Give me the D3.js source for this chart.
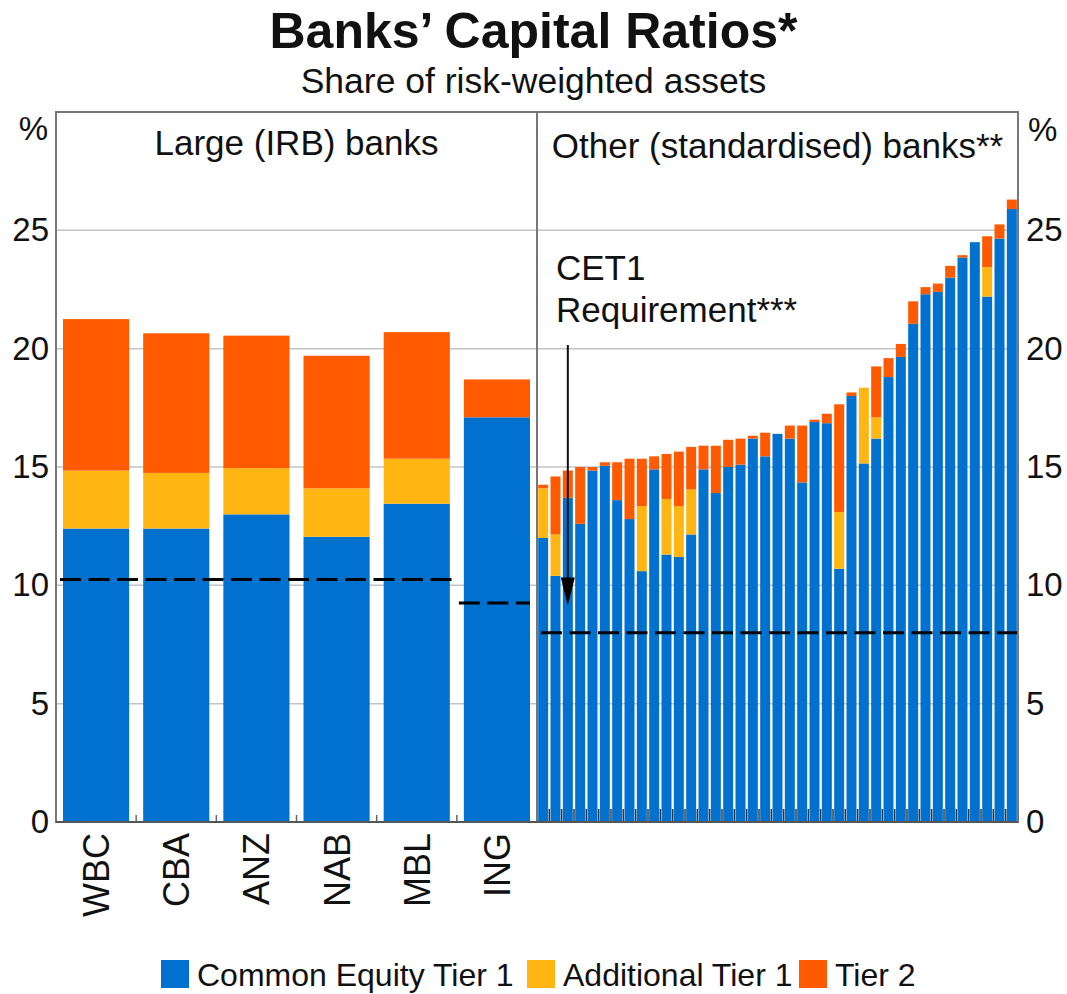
<!DOCTYPE html>
<html>
<head>
<meta charset="utf-8">
<script src="https://cdn.jsdelivr.net/npm/d3@7"></script>
<style>
body { margin: 0; background: #fff; }
svg text { font-family: "Liberation Sans", Arial, sans-serif; fill: #111; }
</style>
</head>
<body>
<div id="chart"></div>
<script>
// large (IRB) banks
var largeBanks = ["WBC", "CBA", "ANZ", "NAB", "MBL", "ING"];
var largeCET1 = [12.4, 12.4, 13.0, 12.05, 13.45, 17.1];
var largeAT1 = [2.45, 2.35, 1.95, 2.05, 1.9, 0];
var largeT2 = [6.4, 5.9, 5.6, 5.6, 5.35, 1.6];

// other (standardised) banks, sorted by total
var otherCET1 = [12.0, 10.4, 13.7, 12.6, 14.85, 15.05, 13.6, 12.8, 10.6, 14.9,
	11.3, 11.2, 12.15, 14.9, 13.9, 15.0, 15.1, 16.2, 15.45, 16.4,
	16.2, 14.35, 16.9, 16.85, 10.7, 18.0, 15.15, 16.2, 18.8, 19.65,
	21.05, 22.3, 22.4, 23.0, 23.85, 24.5, 22.2, 24.65, 25.9];
var otherAT1 = [2.1, 1.75, 0, 0, 0, 0, 0, 0, 2.75, 0,
	2.35, 2.15, 1.9, 0, 0, 0, 0, 0, 0, 0,
	0, 0, 0, 0, 2.4, 0, 3.2, 0.9, 0, 0,
	0, 0, 0, 0, 0, 0, 1.25, 0, 0];
var otherT2 = [0.15, 2.45, 1.15, 2.4, 0.15, 0.15, 1.6, 2.55, 2.0, 0.55,
	1.9, 2.3, 1.8, 1.0, 2.0, 1.15, 1.1, 0.12, 1.0, 0,
	0.55, 2.4, 0.1, 0.4, 4.55, 0.15, 0, 2.15, 0.8, 0.55,
	0.95, 0.3, 0.35, 0.5, 0.1, 0, 1.3, 0.6, 0.4];

// CET1 requirement lines
var reqLarge = 10.25, reqING = 9.25, reqOther = 8.0;

var yTicks = [0, 5, 10, 15, 20, 25];
var seriesNames = ["Common Equity Tier 1", "Additional Tier 1", "Tier 2"];
var colors = ["#0071ce", "#ffb612", "#ff5a00"];

var width = 1067, height = 994;
var plotLeft = 56, plotMid = 537, plotRight = 1018, plotTop = 112, plotBottom = 822;

var svg = d3.select("#chart").append("svg")
	.attr("width", width)
	.attr("height", height);

var y = d3.scaleLinear().domain([0, 30]).range([plotBottom, plotTop]);

var xLarge = d3.scaleBand()
	.domain(largeBanks)
	.range([plotLeft, plotMid])
	.paddingInner(0.175)
	.paddingOuter(0.0875);

var otherIdx = otherCET1.map((d, i) => i);
var xOther = d3.scaleBand()
	.domain(otherIdx)
	.range([plotMid, plotRight])
	.paddingInner(0.19)
	.paddingOuter(0.095);

// gridlines
svg.append("g")
	.selectAll("line")
	.data(yTicks.filter(d => d > 0))
	.enter().append("line")
	.attr("x1", plotLeft).attr("x2", plotRight)
	.attr("y1", d => y(d)).attr("y2", d => y(d))
	.attr("stroke", "#c4c4c4")
	.attr("stroke-width", 1.5);

function stackRows(cet, at, t2) {
	return cet.map((c, i) => [
		{ s: 0, y0: 0, y1: c },
		{ s: 1, y0: c, y1: c + at[i] },
		{ s: 2, y0: c + at[i], y1: c + at[i] + t2[i] }
	]);
}

function drawBars(rows, keys, xs) {
	var g = svg.append("g");
	rows.forEach((segs, i) => {
		g.selectAll(null)
			.data(segs.filter(s => s.y1 > s.y0))
			.enter().append("rect")
			.attr("x", xs(keys[i]))
			.attr("width", xs.bandwidth())
			.attr("y", s => y(s.y1))
			.attr("height", s => y(s.y0) - y(s.y1))
			.attr("fill", s => colors[s.s]);
	});
}

drawBars(stackRows(largeCET1, largeAT1, largeT2), largeBanks, xLarge);
drawBars(stackRows(otherCET1, otherAT1, otherT2), otherIdx, xOther);

// bottom tick marks
var largeTicks = largeBanks.slice(1).map(d => xLarge(d) - xLarge.step() * xLarge.paddingInner() / 2);
svg.append("g").selectAll("line")
	.data(largeTicks)
	.enter().append("line")
	.attr("x1", d => d).attr("x2", d => d)
	.attr("y1", plotBottom).attr("y2", plotBottom - 7)
	.attr("stroke", "#666").attr("stroke-width", 1.5);

var otherTicks = otherIdx.slice(1).map(d => xOther(d) - xOther.step() * xOther.paddingInner() / 2);
svg.append("g").selectAll("line")
	.data(otherTicks)
	.enter().append("line")
	.attr("x1", d => d).attr("x2", d => d)
	.attr("y1", plotBottom).attr("y2", plotBottom - 13)
	.attr("stroke", "#333").attr("stroke-width", 1.5);

// requirement lines
var reqLines = [
	{ x1: plotLeft + 4, x2: xLarge("MBL") + xLarge.bandwidth() + 3, v: reqLarge },
	{ x1: xLarge("ING") - 5, x2: xLarge("ING") + xLarge.bandwidth(), v: reqING },
	{ x1: plotMid + 4, x2: plotRight, v: reqOther }
];
svg.append("g").selectAll("line")
	.data(reqLines)
	.enter().append("line")
	.attr("x1", d => d.x1).attr("x2", d => d.x2)
	.attr("y1", d => y(d.v)).attr("y2", d => y(d.v))
	.attr("stroke", "#000")
	.attr("stroke-width", 3)
	.attr("stroke-dasharray", "21,7.5");

// frame and divider
svg.append("rect")
	.attr("x", plotLeft).attr("y", plotTop)
	.attr("width", plotRight - plotLeft).attr("height", plotBottom - plotTop)
	.attr("fill", "none")
	.attr("stroke", "#777").attr("stroke-width", 2);
svg.append("line")
	.attr("x1", plotMid).attr("x2", plotMid)
	.attr("y1", plotTop).attr("y2", plotBottom)
	.attr("stroke", "#777").attr("stroke-width", 2);
svg.append("line")
	.attr("x1", plotLeft).attr("x2", plotRight)
	.attr("y1", plotBottom).attr("y2", plotBottom)
	.attr("stroke", "#555").attr("stroke-width", 2);

// y axes
var tickFs = 33;
svg.append("g").selectAll("text")
	.data(yTicks)
	.enter().append("text")
	.attr("x", plotLeft - 7).attr("y", d => y(d) + 11)
	.attr("text-anchor", "end")
	.style("font-size", tickFs + "px")
	.text(d => d);
svg.append("g").selectAll("text")
	.data(yTicks)
	.enter().append("text")
	.attr("x", plotRight + 8).attr("y", d => y(d) + 11)
	.attr("text-anchor", "start")
	.style("font-size", tickFs + "px")
	.text(d => d);
svg.append("text").attr("x", plotLeft - 8).attr("y", 140)
	.attr("text-anchor", "end").style("font-size", tickFs + "px").text("%");
svg.append("text").attr("x", plotRight + 10).attr("y", 141)
	.attr("text-anchor", "start").style("font-size", tickFs + "px").text("%");

// category labels
svg.append("g").selectAll("text")
	.data(largeBanks)
	.enter().append("text")
	.attr("transform", d => "translate(" + (xLarge(d) + xLarge.bandwidth() / 2 + 13) + "," + (plotBottom + 11) + ") rotate(-90)")
	.attr("text-anchor", "end")
	.style("font-size", "36px")
	.text(d => d);

// panel labels
var labelFs = 35;
svg.append("text").attr("x", (plotLeft + plotMid) / 2).attr("y", 155)
	.attr("text-anchor", "middle").style("font-size", labelFs + "px").text("Large (IRB) banks");
svg.append("text").attr("x", (plotMid + plotRight) / 2).attr("y", 158)
	.attr("text-anchor", "middle").style("font-size", labelFs + "px").text("Other (standardised) banks**");

// annotation
svg.append("text").attr("x", 556).attr("y", 280)
	.style("font-size", labelFs + "px").text("CET1");
svg.append("text").attr("x", 556).attr("y", 322)
	.style("font-size", labelFs + "px").text("Requirement***");
var ax = xOther(2) + xOther.bandwidth() / 2;
svg.append("line")
	.attr("x1", ax).attr("x2", ax)
	.attr("y1", 345).attr("y2", y(reqLarge) + 5)
	.attr("stroke", "#111").attr("stroke-width", 2);
svg.append("path")
	.attr("d", "M" + (ax - 7) + "," + (y(reqLarge) - 2) + " L" + (ax + 7) + "," + (y(reqLarge) - 2) + " L" + ax + "," + (y(reqLarge) + 26) + " Z")
	.attr("fill", "#000");

// titles
svg.append("text").attr("x", width / 2).attr("y", 48)
	.attr("text-anchor", "middle")
	.style("font-size", "50px").style("font-weight", "bold")
	.text("Banks\u2019 Capital Ratios*");
svg.append("text").attr("x", width / 2).attr("y", 93)
	.attr("text-anchor", "middle")
	.style("font-size", "35.5px")
	.text("Share of risk-weighted assets");

// legend
var legX = [161, 527, 799];
var leg = svg.append("g").selectAll("g")
	.data(seriesNames)
	.enter().append("g")
	.attr("transform", (d, i) => "translate(" + legX[i] + ",960)");
leg.append("rect").attr("width", 28).attr("height", 28).attr("fill", (d, i) => colors[i]);
leg.append("text").attr("x", 36).attr("y", 26).style("font-size", "32px").text(d => d);
</script>
</body>
</html>
